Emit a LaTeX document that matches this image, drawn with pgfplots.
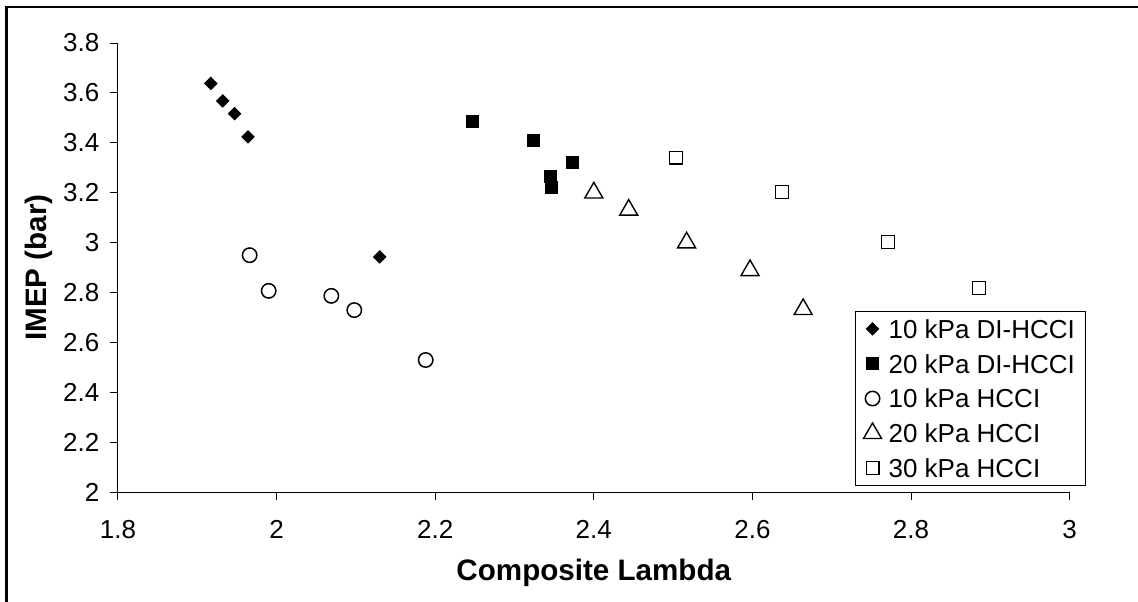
\documentclass[border=0pt]{standalone}
\usepackage{pgfplots}
\pgfplotsset{compat=1.18}
\usepackage{fontspec}
\setmainfont{Liberation Sans}
\begin{document}
\begin{tikzpicture}
\useasboundingbox (0,0) rectangle (569pt,300.5pt);
\draw[line width=1.2pt] (3.15pt,-2pt) -- (3.15pt,296.85pt) -- (572pt,296.85pt);
\begin{axis}[
  at={(59pt,54.35pt)}, anchor=south west,
  scale only axis, width=475.8pt, height=224.65pt,
  xmin=1.8, xmax=3, ymin=2, ymax=3.8,
  axis x line=bottom, axis y line=left,
  axis line style={-, line width=0.5pt, black},
  xtick={1.8,2,2.2,2.4,2.6,2.8,3},
  ytick={2,2.2,2.4,2.6,2.8,3,3.2,3.4,3.6,3.8},
  tick align=outside, major tick length=4pt,
  tick style={black, line width=0.5pt},
  ticklabel style={font=\fontsize{13}{15}\selectfont},
  /pgf/number format/assume math mode=true,
  xticklabel style={yshift=-6.4pt},
  yticklabel style={xshift=-1.8pt},
  xlabel={Composite Lambda}, ylabel={IMEP (bar)},
  label style={font=\fontsize{14.8}{17}\selectfont\bfseries},
  xlabel style={at={(axis description cs:0.5,-0.1952)}, anchor=base},
  ylabel style={at={(axis description cs:-0.0749,0.5)}, anchor=base},
  legend style={at={(0.7745,0.4035)}, anchor=north west, draw=black, line width=0.5pt,
    font=\fontsize{13}{15}\selectfont, fill=white,
    inner xsep=4pt, inner ysep=0pt, column sep=2pt, row sep=0pt,
    nodes={inner xsep=1.5pt, inner ysep=4pt, text height=9.4pt, text depth=0pt}},
  legend cell align=left,
]
\addplot[only marks, mark=square*, mark size=2.15pt, mark options={rotate=45, fill=black, draw=black, line width=0.5pt}]
  coordinates {(1.917,3.638) (1.932,3.568) (1.947,3.517) (1.964,3.424) (2.130,2.943)};
\addlegendentry{10 kPa DI-HCCI}
\addplot[only marks, mark=square*, mark size=3.0pt, mark options={fill=black, draw=black, line width=0.5pt}]
  coordinates {(2.247,3.484) (2.324,3.408) (2.373,3.320) (2.345,3.267) (2.347,3.221)};
\addlegendentry{20 kPa DI-HCCI}
\addplot[only marks, mark=o, mark size=3.6pt, mark options={draw=black, fill=white, line width=0.75pt}]
  coordinates {(1.966,2.950) (1.990,2.807) (2.069,2.787) (2.098,2.730) (2.188,2.530)};
\addlegendentry{10 kPa HCCI}
\addplot[only marks, mark=triangle, mark size=5.2pt, mark options={draw=black, fill=white, line width=0.7pt}]
  coordinates {(2.400,3.200) (2.444,3.131) (2.517,3.000) (2.597,2.889) (2.664,2.733)};
\addlegendentry{20 kPa HCCI}
\addplot[only marks, mark=square, mark size=3.2pt, mark options={draw=black, fill=white, line width=0.6pt}]
  coordinates {(2.504,3.341) (2.637,3.204) (2.771,3.003) (2.886,2.818)};
\addlegendentry{30 kPa HCCI}
\end{axis}
\end{tikzpicture}
\end{document}
